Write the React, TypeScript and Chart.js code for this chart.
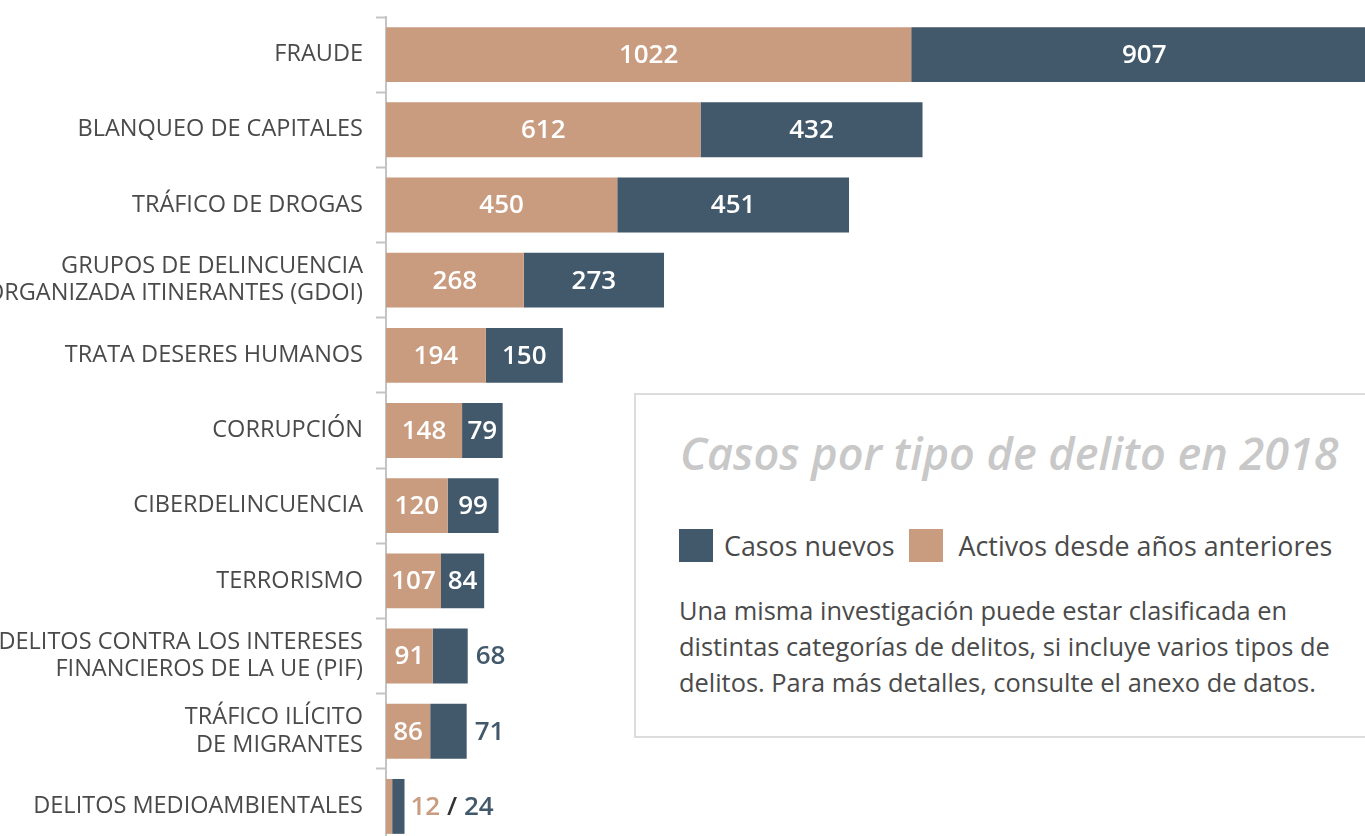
import React, { useEffect, useRef } from "react";
import { Chart, registerables } from "chart.js";

Chart.register(...registerables);

const categories: (string | string[])[] = [
  "FRAUDE",
  "BLANQUEO DE CAPITALES",
  "TRÁFICO DE DROGAS",
  ["GRUPOS DE DELINCUENCIA", "ORGANIZADA ITINERANTES (GDOI)"],
  "TRATA DESERES HUMANOS",
  "CORRUPCIÓN",
  "CIBERDELINCUENCIA",
  "TERRORISMO",
  ["DELITOS CONTRA LOS INTERESES", "FINANCIEROS DE LA UE (PIF)"],
  ["TRÁFICO ILÍCITO", "DE MIGRANTES"],
  "DELITOS MEDIOAMBIENTALES",
];

const activos = [1022, 612, 450, 268, 194, 148, 120, 107, 91, 86, 12];
const nuevos = [907, 432, 451, 273, 150, 79, 99, 84, 68, 71, 24];

const seriesLabels = ["Activos desde años anteriores", "Casos nuevos"];
const TAN = "#C99B7F";
const SLATE = "#41596B";

const TITLE = "Casos por tipo de delito en 2018";
const NOTE_LINES = [
  "Una misma investigación puede estar clasificada en",
  "distintas categorías de delitos, si incluye varios tipos de",
  "delitos. Para más detalles, consulte el anexo de datos.",
];

const FONT = '"Open Sans", "Noto Sans", sans-serif';
const MIN_INSIDE = 38;

const valueLabels = {
  id: "valueLabels",
  afterDatasetsDraw(chart: any) {
    const ctx = chart.ctx;
    const m0 = chart.getDatasetMeta(0);
    const m1 = chart.getDatasetMeta(1);
    ctx.save();
    ctx.font = `600 26px ${FONT}`;
    ctx.textBaseline = "middle";
    for (let i = 0; i < categories.length; i++) {
      const b0 = m0.data[i];
      const b1 = m1.data[i];
      const w0 = Math.abs(b0.x - b0.base);
      const w1 = Math.abs(b1.x - b1.base);
      const y = b0.y + 1;
      const v0 = String(activos[i]);
      const v1 = String(nuevos[i]);
      const fit0 = w0 >= MIN_INSIDE;
      const fit1 = w1 >= MIN_INSIDE;
      ctx.fillStyle = "#ffffff";
      ctx.textAlign = "center";
      if (fit0) ctx.fillText(v0, (b0.x + b0.base) / 2, y);
      if (fit1) ctx.fillText(v1, (b1.x + b1.base) / 2, y);
      ctx.textAlign = "left";
      if (!fit0 && !fit1) {
        let x = b1.x + 6;
        ctx.fillStyle = TAN;
        ctx.fillText(v0, x, y);
        x += ctx.measureText(v0).width;
        ctx.fillStyle = "#333333";
        ctx.fillText(" / ", x, y);
        x += ctx.measureText(" / ").width;
        ctx.fillStyle = SLATE;
        ctx.fillText(v1, x, y);
      } else if (!fit1) {
        ctx.fillStyle = SLATE;
        ctx.fillText(v1, b1.x + 8, y);
      }
    }
    ctx.restore();
  },
};

export default function App() {
  const canvasRef = useRef<HTMLCanvasElement | null>(null);

  useEffect(() => {
    document.body.style.margin = "0";
    const canvas = canvasRef.current!;
    const chart = new Chart(canvas, {
      type: "bar",
      data: {
        labels: categories,
        datasets: [
          {
            label: seriesLabels[0],
            data: activos,
            backgroundColor: TAN,
            borderWidth: 0,
            barPercentage: 0.73,
            categoryPercentage: 1,
          },
          {
            label: seriesLabels[1],
            data: nuevos,
            backgroundColor: SLATE,
            borderWidth: 0,
            barPercentage: 0.73,
            categoryPercentage: 1,
          },
        ],
      },
      options: {
        indexAxis: "y",
        animation: false,
        responsive: false,
        maintainAspectRatio: false,
        layout: { padding: { top: 17, bottom: 16, left: 0, right: 0 } },
        plugins: {
          legend: { display: false },
          tooltip: { enabled: false },
          title: { display: false },
        },
        scales: {
          x: {
            stacked: true,
            display: false,
            min: 0,
            max: 1905,
          },
          y: {
            stacked: true,
            afterFit(scale: any) {
              scale.width = 386;
              scale.paddingTop = 0;
              scale.paddingBottom = 0;
            },
            border: { display: true, color: "#C4C4C4", width: 2 },
            grid: {
              drawOnChartArea: false,
              drawTicks: true,
              tickLength: 10,
              tickWidth: 2,
              color: "#C4C4C4",
              offset: true,
            },
            ticks: {
              color: "#4A4A4A",
              padding: 13,
              font: { family: FONT, size: 23.5, lineHeight: 1.16 },
            },
          },
        },
      },
      plugins: [valueLabels],
    });
    return () => chart.destroy();
  }, []);

  const legendItems = [
    { label: seriesLabels[1], color: SLATE },
    { label: seriesLabels[0], color: TAN },
  ];

  return (
    <div
      style={{
        position: "fixed",
        left: 0,
        top: 0,
        width: 1365,
        height: 836,
        overflow: "hidden",
        background: "#fff",
        fontFamily: FONT,
      }}
    >
      <canvas
        ref={canvasRef}
        width={1365}
        height={860}
        style={{ position: "absolute", left: 0, top: 0, width: 1365, height: 860 }}
      />
      <div
        style={{
          position: "absolute",
          left: 634,
          top: 393,
          width: 800,
          height: 341,
          border: "2px solid #DCDCDC",
          background: "#fff",
          boxSizing: "content-box",
        }}
      >
        <div
          style={{
            position: "absolute",
            left: 44,
            top: 30,
            fontSize: 45,
            fontStyle: "italic",
            fontWeight: 600,
            color: "#C8C8C8",
            whiteSpace: "nowrap",
            lineHeight: "56px",
          }}
        >
          {TITLE}
        </div>
        <div
          style={{
            position: "absolute",
            left: 43,
            top: 134,
            display: "flex",
            alignItems: "center",
            whiteSpace: "nowrap",
          }}
        >
          {legendItems.map((it, k) => (
            <div key={k} style={{ display: "flex", alignItems: "center", marginRight: 14 }}>
              <span
                style={{
                  display: "inline-block",
                  width: 34,
                  height: 33,
                  background: it.color,
                  marginRight: k === 0 ? 11 : 16,
                }}
              />
              <span style={{ fontSize: 26.8, color: "#4A4A4A", lineHeight: "33px" }}>{it.label}</span>
            </div>
          ))}
        </div>
        <div
          style={{
            position: "absolute",
            left: 43,
            top: 197,
            fontSize: 25.4,
            lineHeight: "36px",
            color: "#4A4A4A",
            whiteSpace: "nowrap",
          }}
        >
          {NOTE_LINES.map((l, k) => (
            <div key={k}>{l}</div>
          ))}
        </div>
      </div>
    </div>
  );
}
